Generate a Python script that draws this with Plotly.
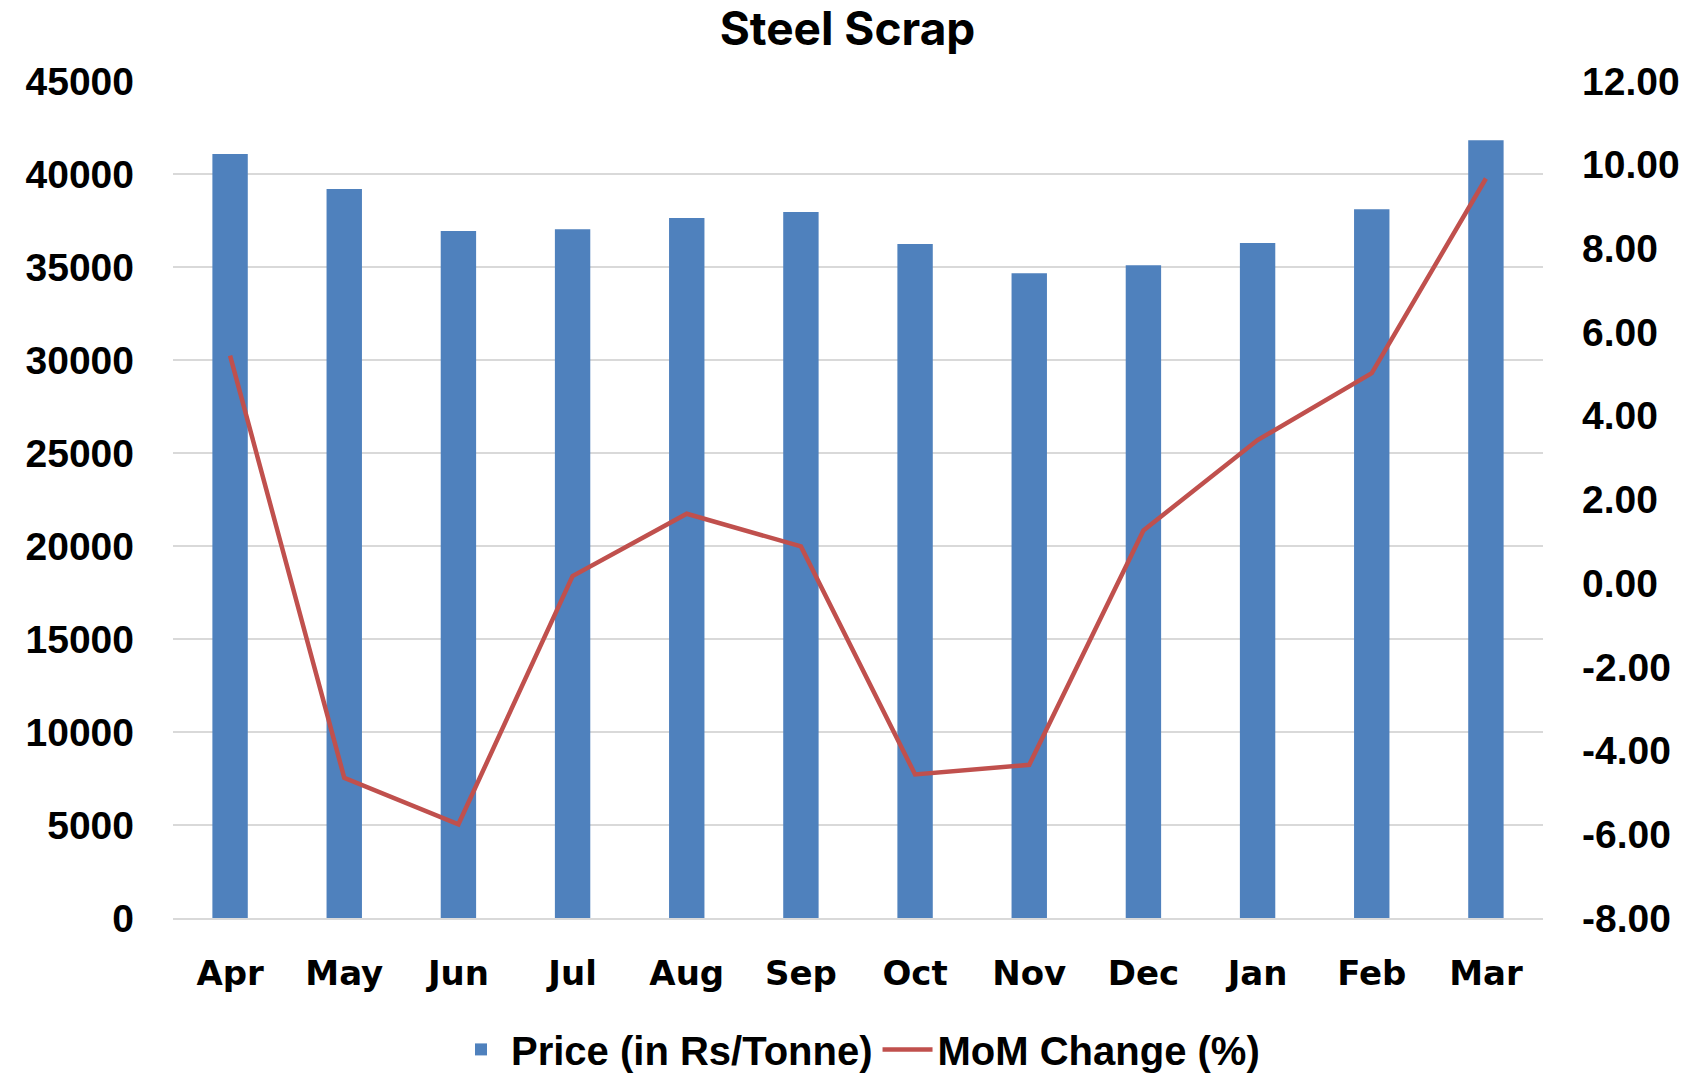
import plotly.graph_objects as go

months = ["Apr", "May", "Jun", "Jul", "Aug", "Sep", "Oct", "Nov", "Dec", "Jan", "Feb", "Mar"]
price = [41075, 39195, 36935, 37025, 37635, 37955, 36240, 34660, 35090, 36290, 38100, 41810]
mom_change = [5.44, -4.65, -5.76, 0.17, 1.66, 0.88, -4.57, -4.34, 1.26, 3.42, 5.02, 9.67]

left_ticks = list(range(0, 45001, 5000))
right_ticks = [-8, -6, -4, -2, 0, 2, 4, 6, 8, 10, 12]

BAR_COLOR = "#4F81BD"
LINE_COLOR = "#C0504D"
GRID = "#D9D9D9"

fig = go.Figure()
fig.add_trace(go.Bar(
    x=months, y=price, name="Price (in Rs/Tonne)",
    marker=dict(color=BAR_COLOR, line=dict(width=0)),
    yaxis="y",
))
fig.add_trace(go.Scatter(
    x=months, y=mom_change, name="MoM Change (%)",
    mode="lines", line=dict(color=LINE_COLOR, width=4.5),
    yaxis="y2",
))

tick_font = dict(family="Liberation Sans, Arial, sans-serif", size=39, color="black", weight="bold")

fig.update_layout(
    width=1695, height=1076,
    paper_bgcolor="white", plot_bgcolor="white",
    margin=dict(l=173, r=152, t=81, b=158, autoexpand=False),
    bargap=0.69,
    title=dict(
        text="Steel Scrap", x=0.5, xanchor="center", y=0.973, yanchor="middle",
        font=dict(family="Inter, Liberation Sans, sans-serif", size=46, color="black", weight="bold"),
    ),
    xaxis=dict(
        type="category", showgrid=False, showline=True, linecolor=GRID, linewidth=2,
        ticks="", ticklabelstandoff=24,
        tickfont=dict(family="DejaVu Sans, Verdana, sans-serif", size=34, color="black", weight="bold"),
    ),
    yaxis=dict(
        range=[0, 45000], tickvals=left_ticks, ticktext=[str(v) for v in left_ticks],
        showgrid=True, gridcolor=GRID, gridwidth=2, zeroline=False, showline=False,
        ticks="", ticklabelstandoff=38, tickfont=tick_font,
    ),
    yaxis2=dict(
        range=[-8, 12], tickvals=right_ticks, ticktext=[f"{v:.2f}" for v in right_ticks],
        overlaying="y", side="right", showgrid=False, zeroline=False, showline=False,
        ticks="", ticklabelstandoff=38, tickfont=tick_font,
    ),
    legend=dict(
        orientation="h", x=0.5, xanchor="center", y=-0.157, yanchor="middle",
        font=dict(family="Liberation Sans Narrow, Arial Narrow, Liberation Sans, sans-serif", size=40, color="black", weight="bold"),
        itemwidth=50, tracegroupgap=0,
    ),
    showlegend=True,
)

fig.write_html(
    "out.html",
    config={"displayModeBar": False},
    post_script="document.body.style.margin='0';",
)
